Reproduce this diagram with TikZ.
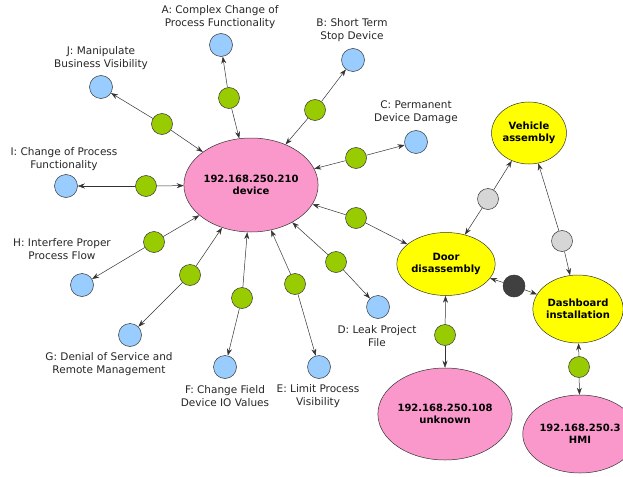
\documentclass[tikz,border=0pt]{standalone}
\usepackage{fontspec}
\setmainfont{DejaVu Sans}
\usetikzlibrary{arrows.meta,shapes.geometric}
\definecolor{ippink}{RGB}{250,152,204}
\definecolor{attblue}{RGB}{153,204,255}
\definecolor{linkgreen}{RGB}{153,204,0}
\definecolor{stepyellow}{RGB}{255,255,0}
\definecolor{linkgrey}{RGB}{214,214,214}
\definecolor{linkdark}{RGB}{64,64,64}
\tikzset{
  node-ip/.style={draw=black!80,fill=ippink,ellipse,inner sep=0pt,line width=0.5pt,align=center,font=\fontsize{10}{12.5}\selectfont\bfseries},
  node-att/.style={draw=black!80,fill=attblue,circle,minimum size=23pt,inner sep=0pt,line width=0.5pt},
  node-link/.style={draw=black!80,fill=linkgreen,circle,minimum size=21pt,inner sep=0pt,line width=0.5pt},
  node-grey/.style={node-link,fill=linkgrey},
  node-dark/.style={node-link,fill=linkdark,minimum size=22pt},
  node-step/.style={draw=black!80,fill=stepyellow,ellipse,inner sep=0pt,line width=0.5pt,align=center,font=\fontsize{10}{12.5}\selectfont\bfseries},
  flow/.style={-{Stealth[length=7pt,width=5pt]},line width=0.5pt,black!80},
  lbl/.style={align=center,inner sep=0pt,text=black!85,font=\fontsize{10.5}{12.8}\selectfont},
}

\begin{document}
\begin{tikzpicture}[x=1pt,y=-1pt]
  \useasboundingbox (0,0) rectangle (623,476);

  % device under attack
  \node[node-ip,minimum width=108pt,minimum height=94pt] (dev) at (251,185) {192.168.250.210\\device};

  % attack targets
  \node[node-att] (a) at (221,45)  {};
  \node[node-att] (b) at (353,60)  {};
  \node[node-att] (c) at (416,142) {};
  \node[node-att] (d) at (378,307) {};
  \node[node-att] (e) at (319,367) {};
  \node[node-att] (f) at (225,367) {};
  \node[node-att] (g) at (130,335) {};
  \node[node-att] (h) at (82,285)  {};
  \node[node-att] (i) at (66,186)  {};
  \node[node-att] (j) at (101,87)  {};

  \node[lbl] (la) at (220,17)  {A: Complex Change of\\Process Functionality};
  \node[lbl] (lb) at (352,30)  {B: Short Term\\Stop Device};
  \node[lbl] (lc) at (416,112) {C: Permanent\\Device Damage};
  \node[lbl] (ld) at (377,336) {D: Leak Project\\File};
  \node[lbl] (le) at (318,396) {E: Limit Process\\Visibility};
  \node[lbl] (lf) at (225,396) {F: Change Field\\Device IO Values};
  \node[lbl] (lg) at (109,364) {G: Denial of Service and\\Remote Management};
  \node[lbl] (lh) at (62,249)  {H: Interfere Proper\\Process Flow};
  \node[lbl] (li) at (64,159)  {I: Change of Process\\Functionality};
  \node[lbl] (lj) at (101,58)  {J: Manipulate\\Business Visibility};

  % links to the targets
  \node[node-link] (ga) at (229,98)  {};
  \node[node-link] (gb) at (315,110) {};
  \node[node-link] (gc) at (356,158) {};
  \node[node-link] (gd) at (336,262) {};
  \node[node-link] (ge) at (295,284) {};
  \node[node-link] (gf) at (242,298) {};
  \node[node-link] (gg) at (190,275) {};
  \node[node-link] (gh) at (154,242) {};
  \node[node-link] (gi) at (146,186) {};
  \node[node-link] (gj) at (162,124) {};
  \draw[flow] (ga) -- (dev);  \draw[flow] (ga) -- (a);
  \draw[flow] (gb) -- (dev);  \draw[flow] (gb) -- (b);
  \draw[flow] (gc) -- (dev);  \draw[flow] (gc) -- (c);
  \draw[flow] (gd) -- (dev);  \draw[flow] (gd) -- (d);
  \draw[flow] (ge) -- (dev);  \draw[flow] (ge) -- (e);
  \draw[flow] (gf) -- (dev);  \draw[flow] (gf) -- (f);
  \draw[flow] (gg) -- (dev);  \draw[flow] (gg) -- (g);
  \draw[flow] (gh) -- (dev);  \draw[flow] (gh) -- (h);
  \draw[flow] (gi) -- (dev);  \draw[flow] (gi) -- (i);
  \draw[flow] (gj) -- (dev);  \draw[flow] (gj) -- (j);

  % process steps
  \node[node-step,minimum size=62pt] (veh) at (529,133) {Vehicle\\assembly};
  \node[node-step,minimum width=77pt,minimum height=63pt] (door) at (446,264) {Door\\disassembly};
  \node[node-step,minimum width=69pt,minimum height=68pt] (dash) at (578,309) {Dashboard\\installation};

  \node[node-grey] (gvd) at (488,199) {};
  \node[node-grey] (gvb) at (562,241) {};
  \node[node-dark] (kdb) at (514,286) {};
  \node[node-link] (gdev) at (356,218) {};
  \draw[flow] (gvd) -- (veh);  \draw[flow] (gvd) -- (door);
  \draw[flow] (gvb) -- (veh);  \draw[flow] (gvb) -- (dash);
  \draw[flow] (kdb) -- (door); \draw[flow] (kdb) -- (dash);
  \draw[flow] (gdev) -- (dev); \draw[flow] (gdev) -- (door);

  % other hosts
  \node[node-ip,minimum width=104pt,minimum height=92pt] (unk) at (445,414) {192.168.250.108\\unknown};
  \node[node-ip,minimum width=96pt,minimum height=78pt] (hmi) at (580,434) {192.168.250.3\\HMI};
  \node[node-link] (gunk) at (445,335) {};
  \node[node-link] (ghmi) at (579,367) {};
  \draw[flow] (gunk) -- (door); \draw[flow] (gunk) -- (unk);
  \draw[flow] (ghmi) -- (dash); \draw[flow] (ghmi) -- (hmi);

\end{tikzpicture}
\end{document}
